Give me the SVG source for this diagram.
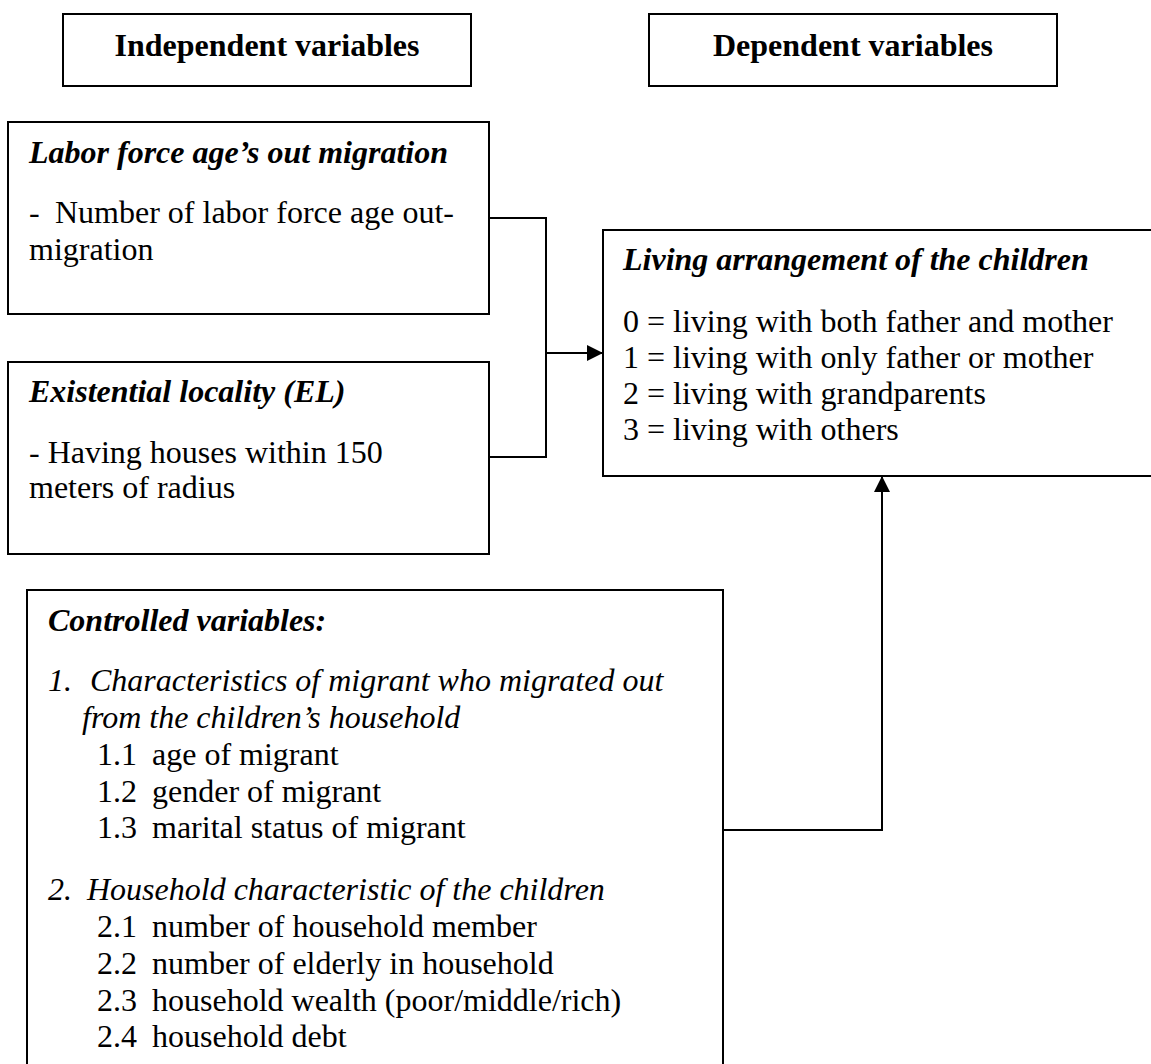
<svg xmlns="http://www.w3.org/2000/svg" width="1151" height="1064" viewBox="0 0 1151 1064">
<style>
  text { font-family: "Liberation Serif", "Times New Roman", serif; font-size: 32px; fill: #000; }
  .hdr { font-weight: bold; text-anchor: middle; }
  .ttl { font-weight: bold; font-style: italic; }
  .it { font-style: italic; }
  .box { fill: #fff; stroke: #000; stroke-width: 2; }
  .conn { fill: none; stroke: #000; stroke-width: 2; }
</style>
<defs>
  <marker id="arrow" viewBox="0 0 16 16" refX="16" refY="8" markerWidth="16" markerHeight="16" markerUnits="userSpaceOnUse" orient="auto">
    <path d="M0,0 L16,8 L0,16 Z" fill="#000"/>
  </marker>
</defs>
<rect width="1151" height="1064" fill="#fff"/>

<g id="independent-header">
  <rect class="box" x="63" y="14" width="408" height="72"/>
  <text class="hdr" x="267" y="56">Independent variables</text>
</g>
<g id="dependent-header">
  <rect class="box" x="649" y="14" width="408" height="72"/>
  <text class="hdr" x="853" y="56">Dependent variables</text>
</g>

<g id="labor-force">
  <rect class="box" x="8" y="122" width="481" height="192"/>
  <text class="ttl" x="29" y="163">Labor force age’s out migration</text>
  <text x="29" y="223">-<tspan x="55">Number of labor force age out-</tspan></text>
  <text x="29" y="260">migration</text>
</g>

<g id="existential-locality">
  <rect class="box" x="8" y="362" width="481" height="192"/>
  <text class="ttl" x="29" y="402">Existential locality (EL)</text>
  <text x="29" y="463">- Having houses within 150</text>
  <text x="29" y="498">meters of radius</text>
</g>

<g id="living-arrangement">
  <rect class="box" x="603" y="230" width="560" height="246"/>
  <text class="ttl" x="623" y="270">Living arrangement of the children</text>
  <text x="623" y="332">0 = living with both father and mother</text>
  <text x="623" y="368">1 = living with only father or mother</text>
  <text x="623" y="404">2 = living with grandparents</text>
  <text x="623" y="440">3 = living with others</text>
</g>

<g id="controlled-variables">
  <rect class="box" x="27" y="590" width="696" height="490"/>
  <text class="ttl" x="48" y="631">Controlled variables:</text>
  <text class="it" x="48" y="691">1.<tspan x="90">Characteristics of migrant who migrated out</tspan></text>
  <text class="it" x="82" y="728">from the children’s household</text>
  <text x="97" y="765">1.1<tspan x="152">age of migrant</tspan></text>
  <text x="97" y="802">1.2<tspan x="152">gender of migrant</tspan></text>
  <text x="97" y="838">1.3<tspan x="152">marital status of migrant</tspan></text>
  <text class="it" x="48" y="900">2.<tspan x="87">Household characteristic of the children</tspan></text>
  <text x="97" y="937">2.1<tspan x="152">number of household member</tspan></text>
  <text x="97" y="974">2.2<tspan x="152">number of elderly in household</tspan></text>
  <text x="97" y="1011">2.3<tspan x="152">household wealth (poor/middle/rich)</tspan></text>
  <text x="97" y="1047">2.4<tspan x="152">household debt</tspan></text>
</g>

<g id="connectors">
  <path class="conn" d="M489,218 H546 V457 H489"/>
  <path class="conn" d="M546,353 H603" marker-end="url(#arrow)"/>
  <path class="conn" d="M723,830 H882 V476" marker-end="url(#arrow)"/>
</g>
</svg>
